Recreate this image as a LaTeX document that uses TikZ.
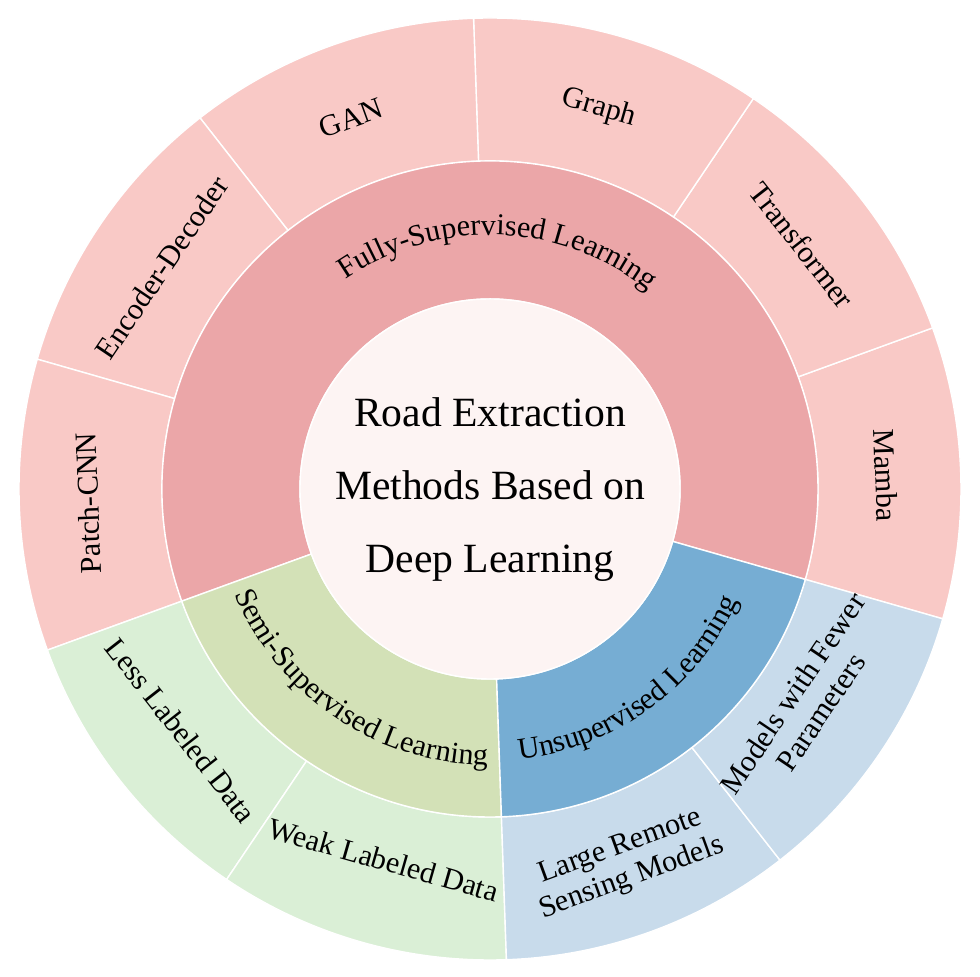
\documentclass[tikz,border=0pt]{standalone}
\usepackage{fontspec}
\setmainfont{Liberation Serif}
\usetikzlibrary{decorations.text}
\definecolor{fullout}{HTML}{F9C9C6}
\definecolor{fullmid}{HTML}{EBA6A8}
\definecolor{semiout}{HTML}{DAEFD6}
\definecolor{semimid}{HTML}{D3E1B7}
\definecolor{unsout}{HTML}{C8DBEB}
\definecolor{unsmid}{HTML}{76ADD3}
\definecolor{hubfill}{HTML}{FDF4F3}
\tikzset{
  seg/.style={draw=white, line width=1pt},
  leaf/.style={font=\fontsize{21.5}{24}\selectfont, align=center, inner sep=0pt},
  hub/.style={font=\fontsize{29.6}{34}\selectfont, inner sep=0pt, anchor=base},
  arclabel/.style={decorate, decoration={text along path, text align=center, text={|\fontsize{21.5}{24}\selectfont|#1}}}
}
\newcommand{\ringsector}[5]{%
  \fill[seg, fill=#1] (#2:#4) arc[start angle=#2, end angle=#3, radius=#4] -- (#3:#5) arc[start angle=#3, end angle=#2, radius=#5] -- cycle;}
\begin{document}
\begin{tikzpicture}
\useasboundingbox (-12.25,-12.2) rectangle (12.25,12.225);
% outer ring
\foreach \a/\c in {-16/fullout,20/fullout,56/fullout,92/fullout,128/fullout,164/fullout,200/semiout,236/semiout,272/unsout,308/unsout}{
  \pgfmathsetmacro\b{\a+36}
  \ringsector{\c}{\a}{\b}{8.2}{11.775}
}
% middle ring
\ringsector{fullmid}{-16}{200}{4.75}{8.2}
\ringsector{semimid}{200}{272}{4.75}{8.2}
\ringsector{unsmid}{272}{344}{4.75}{8.2}
% hub
\fill[seg, fill=hubfill] (0,0) circle[radius=4.75];
\node[hub] (hub1) at (0,1.55) {Road Extraction};
\node[hub] (hub2) at (0,-0.275) {Methods Based on};
\node[hub] (hub3) at (0,-2.1) {Deep Learning};
% middle labels
\path[arclabel={Fully-Supervised Learning}] (148:6.35) arc[start angle=148, end angle=28, radius=6.35];
\path[arclabel={Semi-Supervised Learning}] (176:6.9) arc[start angle=176, end angle=296, radius=6.9];
\path[arclabel={Unsupervised Learning}] (246:6.8) arc[start angle=246, end angle=366, radius=6.8];
% outer labels
\node[leaf, rotate=92] (patch) at (182:10.05) {Patch-CNN};
\node[leaf, rotate=56] (encdec) at (146:9.9) {Encoder-Decoder};
\node[leaf, rotate=20] (gan) at (110.5:9.9) {GAN};
\node[leaf, rotate=-16] (graph) at (74:9.9) {Graph};
\node[leaf, rotate=-52] (transformer) at (38:9.9) {Transformer};
\node[leaf, rotate=-88] (mamba) at (2:9.9) {Mamba};
\node[leaf, rotate=-52] (less) at (218:9.8) {Less Labeled Data};
\node[leaf, rotate=-16] (weak) at (254:9.65) {Weak Labeled Data};
\node[leaf, rotate=20] (large) at (290:9.95) {Large Remote\\Sensing Models};
\node[leaf, rotate=56] (fewer) at (326:9.55) {Models with Fewer\\Parameters};
\end{tikzpicture}
\end{document}
